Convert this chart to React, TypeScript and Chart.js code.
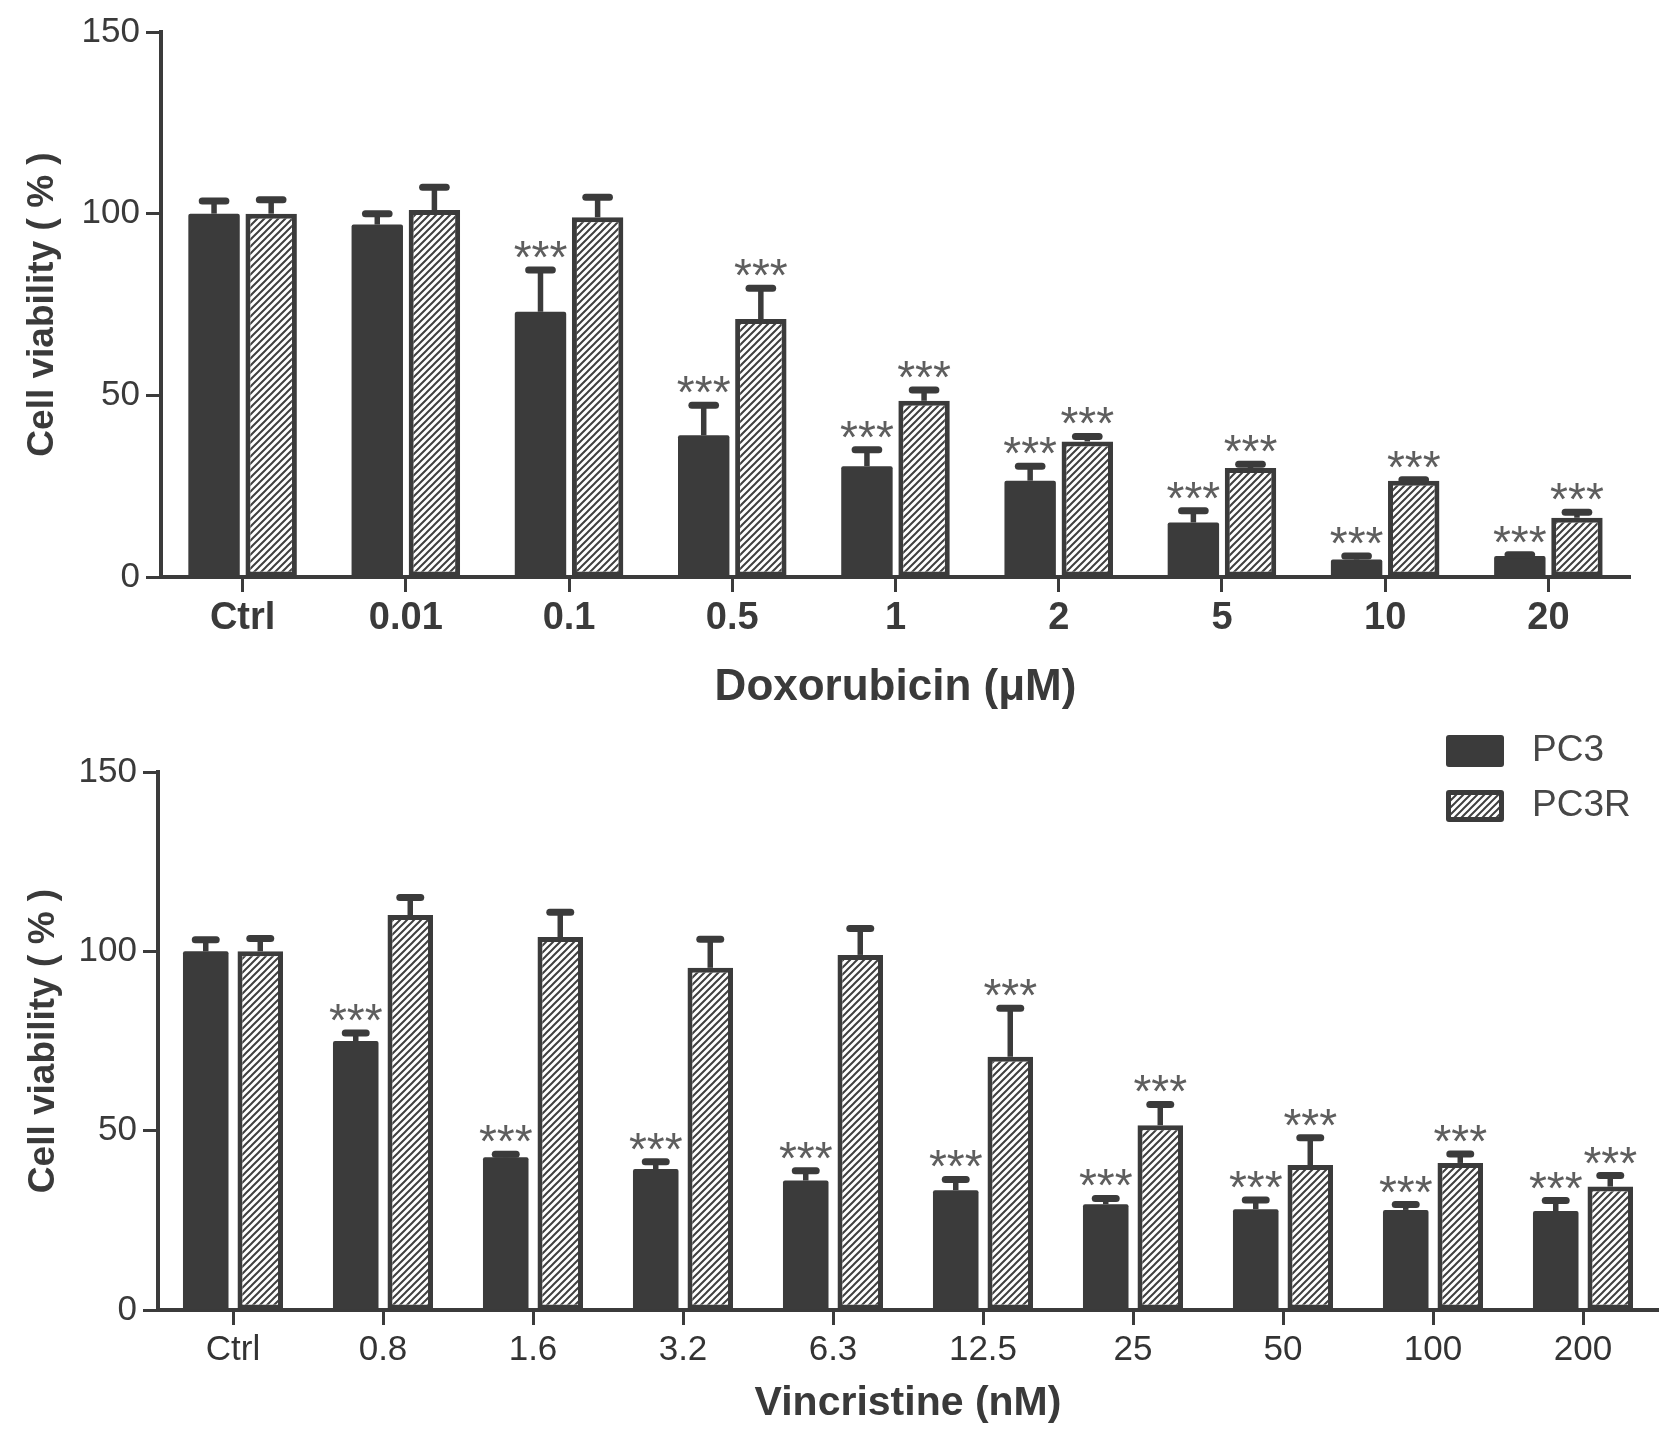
import { useEffect, useRef } from "react"
import { Chart, registerables } from "chart.js"

Chart.register(...registerables)

// Doxorubicin panel
const doxLabels = ["Ctrl", "0.01", "0.1", "0.5", "1", "2", "5", "10", "20"]
const doxPC3 = [100, 97, 73, 39, 30.5, 26.5, 15, 4.8, 5.8]
const doxPC3Err = [3.5, 3, 11.5, 8.3, 4.5, 4, 3.2, 1, 0.3]
const doxPC3Stars = ["", "", "***", "***", "***", "***", "***", "***", "***"]
const doxPC3R = [100, 101, 99, 71, 48.5, 37.3, 30, 26.5, 16.3]
const doxPC3RErr = [3.8, 6.3, 5.5, 8.5, 3, 1.4, 1, 0.3, 1.5]
const doxPC3RStars = ["", "", "", "***", "***", "***", "***", "***", "***"]

// Vincristine panel
const vinLabels = ["Ctrl", "0.8", "1.6", "3.2", "6.3", "12.5", "25", "50", "100", "200"]
const vinPC3 = [100, 75, 42.6, 39.3, 36.1, 33.4, 29.5, 28.1, 27.9, 27.6]
const vinPC3Err = [3.2, 2.2, 0.8, 2, 2.7, 3, 1.6, 2.6, 1.5, 2.9]
const vinPC3Stars = ["", "***", "***", "***", "***", "***", "***", "***", "***", "***"]
const vinPC3R = [100, 110.1, 104, 95.4, 99, 70.6, 51.5, 40.4, 41, 34.4]
const vinPC3RErr = [3.6, 4.9, 6.9, 8, 7.4, 13.5, 5.8, 7.6, 2.5, 3.1]
const vinPC3RStars = ["", "", "", "", "", "***", "***", "***", "***", "***"]

const seriesNames = ["PC3", "PC3R"]
const yTicks = [0, 50, 100, 150]

const DARK = "#3b3b3b"
const TEXT = "#3a3a3a"
const FONT = "'Liberation Sans', Arial, sans-serif"

function makeHatch(): CanvasPattern {
  const s = 7
  const c = document.createElement("canvas")
  c.width = s
  c.height = s
  const g = c.getContext("2d")!
  g.fillStyle = "#ffffff"
  g.fillRect(0, 0, s, s)
  g.strokeStyle = "#404040"
  g.lineWidth = 2
  g.beginPath()
  g.moveTo(-1, s + 1)
  g.lineTo(s + 1, -1)
  g.moveTo(-1, 1)
  g.lineTo(1, -1)
  g.moveTo(s - 1, s + 1)
  g.lineTo(s + 1, s - 1)
  g.stroke()
  return g.createPattern(c, "repeat")!
}

// error bars (upper only) and significance stars
const errorBars = {
  id: "errorBars",
  afterDatasetsDraw(chart: any) {
    const { ctx } = chart
    const y = chart.scales.y
    chart.data.datasets.forEach((ds: any, di: number) => {
      const meta = chart.getDatasetMeta(di)
      const capHalf = meta.data[0] ? meta.data[0].width * 0.23 : 12
      meta.data.forEach((bar: any, i: number) => {
        const v = ds.data[i]
        const top = y.getPixelForValue(v + ds.errors[i])
        const yBar = y.getPixelForValue(v)
        ctx.save()
        ctx.strokeStyle = DARK
        ctx.lineWidth = 5.5
        ctx.beginPath()
        ctx.moveTo(bar.x, yBar)
        ctx.lineTo(bar.x, top)
        ctx.stroke()
        ctx.lineWidth = 7
        ctx.lineCap = "round"
        ctx.beginPath()
        ctx.moveTo(bar.x - capHalf, top)
        ctx.lineTo(bar.x + capHalf, top)
        ctx.stroke()
        if (ds.stars[i]) {
          ctx.fillStyle = "#5e5e5e"
          ctx.font = `46px ${FONT}`
          ctx.textAlign = "center"
          ctx.textBaseline = "alphabetic"
          ctx.fillText(ds.stars[i], bar.x, top + 3)
        }
        ctx.restore()
      })
    })
  },
}

// legend in the top right corner of the lower panel
const cornerLegend = {
  id: "cornerLegend",
  afterDraw(chart: any) {
    const { ctx, chartArea } = chart
    chart.data.datasets.forEach((ds: any, i: number) => {
      const x = chartArea.right - 212
      const yy = 24 + i * 55
      const w = 58
      const h = 32
      ctx.save()
      ctx.fillStyle = DARK
      ctx.beginPath()
      ctx.roundRect(x, yy, w, h, 3)
      ctx.fill()
      if (ds.borderWidth) {
        ctx.fillStyle = ds.backgroundColor
        ctx.fillRect(x + 5, yy + 5, w - 10, h - 10)
      }
      ctx.fillStyle = "#474747"
      ctx.font = `37px ${FONT}`
      ctx.textAlign = "left"
      ctx.textBaseline = "middle"
      ctx.fillText(ds.label, x + 86, yy + h / 2)
      ctx.restore()
    })
  },
}

interface PanelOpts {
  labels: string[]
  pc3: number[]
  pc3Err: number[]
  pc3Stars: string[]
  pc3r: number[]
  pc3rErr: number[]
  pc3rStars: string[]
  title: string
  padding: { left: number; right: number; top: number; bottom: number }
  yWidth: number
  xHeight: number
  xFont: any
  xColor: string
  titleFont: any
  titlePad: number
  barPct: number
  catPct: number
  legend: boolean
}

function buildChart(canvas: HTMLCanvasElement, o: PanelOpts) {
  const hatch = makeHatch()
  return new Chart(canvas, {
    type: "bar",
    data: {
      labels: o.labels,
      datasets: [
        {
          label: seriesNames[0],
          data: o.pc3,
          errors: o.pc3Err,
          stars: o.pc3Stars,
          backgroundColor: DARK,
          borderWidth: 0,
          borderRadius: 2,
          barPercentage: o.barPct,
          categoryPercentage: o.catPct,
        } as any,
        {
          label: seriesNames[1],
          data: o.pc3r,
          errors: o.pc3rErr,
          stars: o.pc3rStars,
          backgroundColor: hatch,
          borderColor: DARK,
          borderWidth: 5,
          borderSkipped: false,
          barPercentage: o.barPct,
          categoryPercentage: o.catPct,
        } as any,
      ],
    },
    options: {
      responsive: false,
      animation: false,
      devicePixelRatio: 1,
      layout: { padding: o.padding },
      plugins: {
        legend: { display: false },
        tooltip: { enabled: false },
      },
      scales: {
        x: {
          grid: {
            display: true,
            drawOnChartArea: false,
            offset: false,
            tickLength: 15,
            tickWidth: 3,
            tickColor: DARK,
          },
          border: { color: DARK, width: 4 },
          ticks: { color: o.xColor, font: o.xFont, padding: 4, maxRotation: 0, autoSkip: false },
          title: {
            display: true,
            text: o.title,
            color: TEXT,
            font: o.titleFont,
            padding: { top: 0, bottom: o.titlePad },
          },
          afterFit: (s: any) => {
            s.height = o.xHeight
          },
        },
        y: {
          min: 0,
          max: 150,
          afterBuildTicks: (s: any) => {
            s.ticks = yTicks.map((v) => ({ value: v }))
          },
          grid: {
            display: true,
            drawOnChartArea: false,
            tickLength: 15,
            tickWidth: 3,
            tickColor: DARK,
          },
          border: { color: DARK, width: 4 },
          ticks: { color: TEXT, font: { size: 35, family: FONT }, padding: 6 },
          title: {
            display: true,
            text: "Cell viability ( % )",
            color: TEXT,
            font: { size: 37, weight: "bold", family: FONT, lineHeight: 1 },
            padding: { top: 0, bottom: 0 },
          },
          afterFit: (s: any) => {
            s.width = o.yWidth
          },
        },
      },
    },
    plugins: o.legend ? [errorBars, cornerLegend] : [errorBars],
  })
}

export default function App() {
  const topRef = useRef<HTMLCanvasElement>(null)
  const bottomRef = useRef<HTMLCanvasElement>(null)

  useEffect(() => {
    document.body.style.margin = "0"
    Chart.defaults.font.family = FONT

    const top = buildChart(topRef.current!, {
      labels: doxLabels,
      pc3: doxPC3,
      pc3Err: doxPC3Err,
      pc3Stars: doxPC3Stars,
      pc3r: doxPC3R,
      pc3rErr: doxPC3RErr,
      pc3rStars: doxPC3RStars,
      title: "Doxorubicin (μM)",
      padding: { left: 24, right: 47, top: 32, bottom: 0 },
      yWidth: 137,
      xHeight: 134,
      xFont: { size: 38, weight: "bold", family: FONT },
      xColor: TEXT,
      titleFont: { size: 44, weight: "bold", family: FONT, lineHeight: 1 },
      titlePad: 1,
      barPct: 0.9,
      catPct: 0.7,
      legend: false,
    })

    const bottom = buildChart(bottomRef.current!, {
      labels: vinLabels,
      pc3: vinPC3,
      pc3Err: vinPC3Err,
      pc3Stars: vinPC3Stars,
      pc3r: vinPC3R,
      pc3rErr: vinPC3RErr,
      pc3rStars: vinPC3RStars,
      title: "Vincristine (nM)",
      padding: { left: 25, right: 19, top: 61, bottom: 0 },
      yWidth: 133,
      xHeight: 126,
      xFont: { size: 35, family: FONT },
      xColor: "#333333",
      titleFont: { size: 41, weight: "bold", family: FONT, lineHeight: 1 },
      titlePad: 12,
      barPct: 0.835,
      catPct: 0.727,
      legend: true,
    })

    return () => {
      top.destroy()
      bottom.destroy()
    }
  }, [])

  return (
    <div style={{ width: 1677, height: 1436, background: "#ffffff" }}>
      <canvas ref={topRef} width={1677} height={711} style={{ display: "block" }} />
      <canvas ref={bottomRef} width={1677} height={725} style={{ display: "block" }} />
    </div>
  )
}
